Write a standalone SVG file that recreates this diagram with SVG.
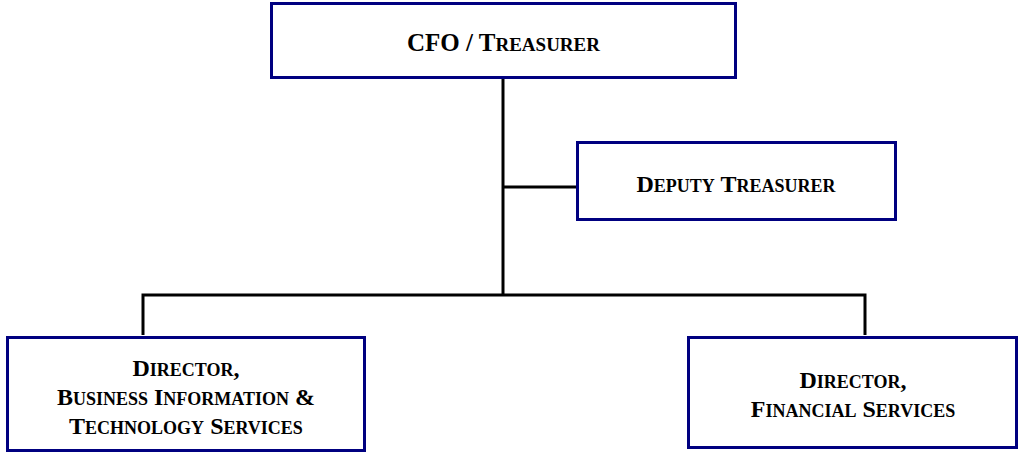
<svg xmlns="http://www.w3.org/2000/svg" width="1019" height="453" viewBox="0 0 1019 453">
<style>
.box{fill:#fff;stroke:#000080;stroke-width:3}
.lbl{font-family:"Liberation Serif","Times New Roman",serif;font-weight:bold;font-size:24px;fill:#000;text-anchor:middle}
.sc{font-size:18px}
.big{font-size:25px}
.big .sc{font-size:19px}
.con{stroke:#000;stroke-width:3;fill:none}
</style>
<rect width="1019" height="453" fill="#fff"/>
<g id="connectors">
<line class="con" x1="503" y1="78" x2="503" y2="295"/>
<line class="con" x1="502" y1="187" x2="577" y2="187"/>
<polyline class="con" points="143,335 143,295 865,295 865,335"/>
</g>
<g id="cfo">
<rect class="box" x="271.5" y="3.5" width="464" height="74"/>
<text class="lbl big" x="503.5" y="51">CFO / T<tspan class="sc">REASURER</tspan></text>
</g>
<g id="deputy">
<rect class="box" x="577.5" y="142.5" width="318" height="77"/>
<text class="lbl" x="736" y="192">D<tspan class="sc">EPUTY</tspan> T<tspan class="sc">REASURER</tspan></text>
</g>
<g id="dir-bits">
<rect class="box" x="7.5" y="337.5" width="357" height="113"/>
<text class="lbl" x="186" y="376">D<tspan class="sc">IRECTOR</tspan>,</text>
<text class="lbl" x="186" y="405">B<tspan class="sc">USINESS</tspan> I<tspan class="sc">NFORMATION</tspan> &amp;</text>
<text class="lbl" x="186" y="434">T<tspan class="sc">ECHNOLOGY</tspan> S<tspan class="sc">ERVICES</tspan></text>
</g>
<g id="dir-fin">
<rect class="box" x="688.5" y="337.5" width="328" height="110"/>
<text class="lbl" x="853" y="388">D<tspan class="sc">IRECTOR</tspan>,</text>
<text class="lbl" x="853" y="417">F<tspan class="sc">INANCIAL</tspan> S<tspan class="sc">ERVICES</tspan></text>
</g>
</svg>
